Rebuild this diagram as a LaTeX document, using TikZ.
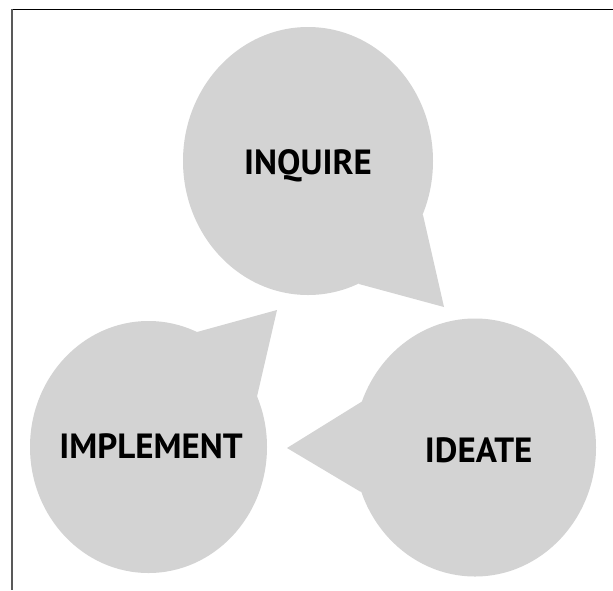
\documentclass[tikz,border=0pt]{standalone}
\usepackage{fontspec}
\setmainfont{PT Sans}
\usepackage{tikz}
\usetikzlibrary{positioning,calc}

\tikzset{
    burbuja/.style = {fill=bubblegray, draw=none},
    etiqueta/.style = {anchor=base, inner sep=0pt, font=\fontsize{35}{35}\selectfont\bfseries}
}
\definecolor{bubblegray}{RGB}{211,211,211}

\begin{document}
\begin{tikzpicture}[x = 1pt, y = -1pt]
            \useasboundingbox (0,0) rectangle (613,590);
            \fill[white] (0,0) rectangle (613,590);
            \draw[black, line width=1pt] (12,9.5) -- (613,9.5);          % Borde superior
            \draw[black!65, line width=1.7pt] (12,9) -- (12,590);        % Borde izq.
            % Burbujas
            \fill[burbuja] (308,161) ellipse [x radius=125, y radius=134];
            \fill[burbuja] (423,215) -- (444,307) -- (359,284) -- (308,161) -- cycle;
            \fill[burbuja] (148.5,447) ellipse [x radius=118.5, y radius=126];
            \fill[burbuja] (197,332) -- (277,310) -- (257,396.5) -- (148.5,447) -- cycle;
            \fill[burbuja] (475,447.5) ellipse [x radius=121, y radius=129];
            \fill[burbuja] (361.7,401.7) -- (287,448) -- (360.4,491.7) -- (475,447.5) -- cycle;
            % Textos
            \node[etiqueta] (inquire) at (308,174.3) {INQUIRE};
            \node[etiqueta] (implement) at (151,458.3) {IMPLEMENT};
            \node[etiqueta] (ideate) at (478.7,462.3) {IDEATE};
\end{tikzpicture}
\end{document}
